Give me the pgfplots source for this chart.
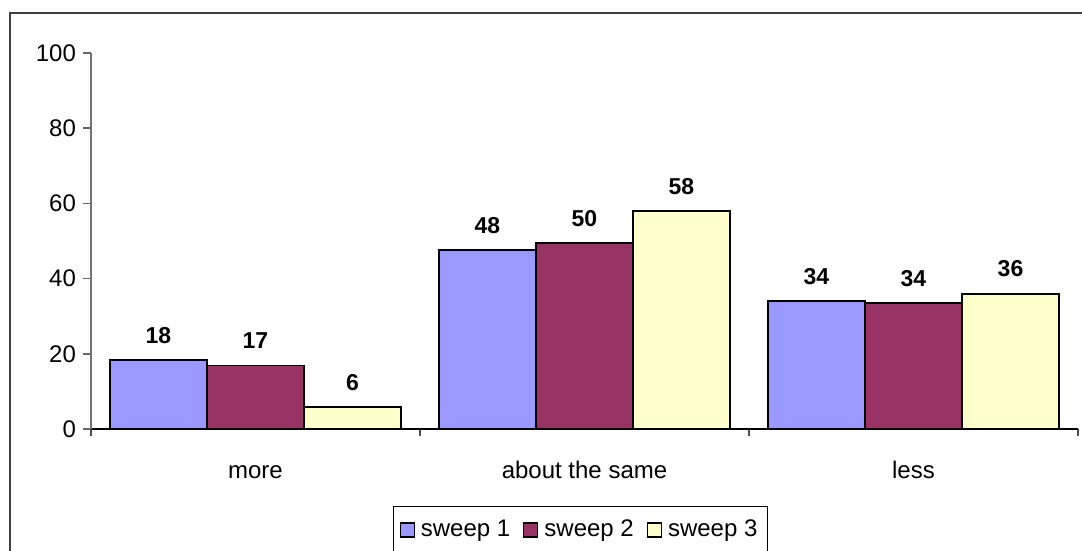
\documentclass[border=0pt]{standalone}
\usepackage{pgfplots}
\pgfplotsset{compat=1.18}
\usepackage{fontspec}
\setmainfont{Liberation Sans}
\definecolor{sweepA}{HTML}{9999FF}
\definecolor{sweepB}{HTML}{993366}
\definecolor{sweepC}{HTML}{FFFFCC}

\begin{document}
\begin{tikzpicture}
\useasboundingbox (-45.5pt,-61pt) rectangle (495.5pt,214.5pt);
% outer chart border (right and bottom edges lie outside the picture)
\draw[line width=1pt, black!75] (-40.5pt,-80pt) -- (-40.5pt,208pt) -- (510pt,208pt);
\begin{axis}[
    scale only axis,
    width=493.5pt, height=188pt,
    ybar=0pt, bar width=48.5pt,
    xmin=-0.5, xmax=2.5,
    ymin=0, ymax=100,
    ytick={0,20,40,60,80,100},
    xtick={0,1,2},
    xticklabels={more, about the same, less},
    minor xtick={-0.5,0.5,1.5,2.5},
    major x tick style={draw=none},
    axis x line=bottom, axis y line=left,
    x axis line style={-, black, line width=0.75pt},
    y axis line style={-, black!55, line width=0.75pt},
    tick align=outside,
    major tick length=4pt, minor tick length=3.5pt,
    ytick style={black!60, line width=0.75pt},
    minor x tick style={black!70, line width=0.6pt},
    tick label style={font=\fontsize{12}{14}\selectfont},
    /pgf/number format/assume math mode=true,
    xticklabel style={yshift=-8pt, text height=9pt, text depth=2.5pt},
    nodes near coords,
    point meta=explicit symbolic,
    nodes near coords style={font=\bfseries\fontsize{11.5}{13}\selectfont, anchor=south, yshift=4.5pt},
    legend style={at={(0.496,-0.204)}, anchor=north, legend columns=3,
        draw=black, line width=0.5pt, font=\fontsize{12}{14}\selectfont,
        inner ysep=5pt, inner xsep=3pt,
        /tikz/every odd column/.append style={column sep=1pt},
        /tikz/every even column/.append style={column sep=4.5pt}},
    legend image code/.code={\draw[#1, draw=black, line width=0.6pt] (0pt,-3.5pt) rectangle (7pt,3.5pt);},
]
\addplot[fill=sweepA, draw=black, line width=0.9pt] coordinates {(0,18.4)[18] (1,47.5)[48] (2,34)[34]};
\addlegendentry{sweep 1}
\addplot[fill=sweepB, draw=black, line width=0.9pt] coordinates {(0,16.9)[17] (1,49.5)[50] (2,33.5)[34]};
\addlegendentry{sweep 2}
\addplot[fill=sweepC, draw=black, line width=0.9pt] coordinates {(0,5.9)[6] (1,58)[58] (2,36)[36]};
\addlegendentry{sweep 3}
\end{axis}
\end{tikzpicture}
\end{document}
